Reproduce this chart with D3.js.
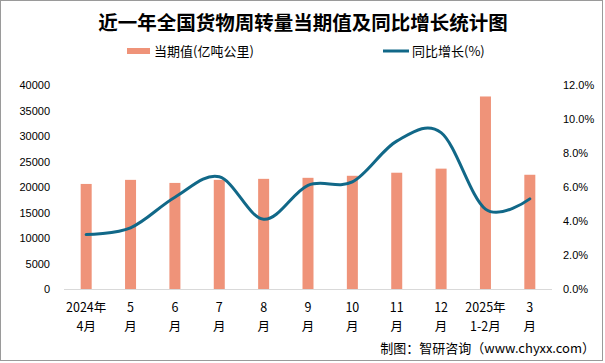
<!DOCTYPE html>
<html>
<head>
<meta charset="utf-8">
<script src="https://cdn.jsdelivr.net/npm/d3@7"></script>
<style>
  body { margin: 0; background: #fff; }
  text { font-family: "Liberation Sans", Arial, sans-serif; fill: #000; }
  .cjk { font-family: "Noto Sans CJK SC", sans-serif; }
</style>
</head>
<body>
<div id="chart"></div>
<script>

var months = ['2024年|4月', '5|月', '6|月', '7|月', '8|月', '9|月', '10|月', '11|月', '12|月', '2025年|1-2月', '3|月'];
var turnover = [20600, 21400, 20800, 21400, 21600, 21800, 22200, 22800, 23600, 37750, 22400];
var growth = [3.2, 3.6, 5.4, 6.6, 4.1, 6.1, 6.3, 8.7, 9.2, 4.7, 5.3];
var leftTicks = [0, 5000, 10000, 15000, 20000, 25000, 30000, 35000, 40000];
var rightTicks = [0, 2, 4, 6, 8, 10, 12];

var width = 605, height = 363;
var barColor = '#ef9379', lineColor = '#116888';

var svg = d3.select('#chart').append('svg')
    .attr('width', width)
    .attr('height', height);

svg.append('rect')
    .attr('x', 0.5).attr('y', 0.5)
    .attr('width', 602).attr('height', 360)
    .attr('fill', '#fff')
    .attr('stroke', '#9a9a9a');

var x = d3.scaleBand()
    .domain(months)
    .range([64, 552])
    .paddingInner(0.752)
    .paddingOuter(0.376);

var y = d3.scaleLinear().domain([0, 40000]).range([289, 85]);
var y2 = d3.scaleLinear().domain([0, 12]).range([289, 85]);

// title
svg.append('text')
    .attr('class', 'cjk')
    .attr('x', 303).attr('y', 30)
    .attr('text-anchor', 'middle')
    .style('font-size', '19.5px')
    .style('font-weight', 'bold')
    .text('近一年全国货物周转量当期值及同比增长统计图');

// legend
svg.append('rect')
    .attr('x', 127).attr('y', 48)
    .attr('width', 23).attr('height', 6)
    .attr('fill', barColor);
svg.append('text')
    .attr('class', 'cjk')
    .attr('x', 154).attr('y', 56)
    .style('font-size', '13px')
    .text('当期值(亿吨公里)');
svg.append('line')
    .attr('x1', 383).attr('x2', 409)
    .attr('y1', 51).attr('y2', 51)
    .attr('stroke', lineColor)
    .attr('stroke-width', 3);
svg.append('text')
    .attr('class', 'cjk')
    .attr('x', 412).attr('y', 56)
    .style('font-size', '13px')
    .text('同比增长(%)');

// left axis
var yAxis = d3.axisLeft(y).tickValues(leftTicks).tickSize(0).tickPadding(0)
    .tickFormat(d3.format('d'));
var gl = svg.append('g').attr('transform', 'translate(50,0)').call(yAxis);
gl.select('.domain').remove();
gl.selectAll('text').style('font-size', '11px').attr('font-family', null);

// right axis
var y2Axis = d3.axisRight(y2).tickValues(rightTicks).tickSize(0).tickPadding(0)
    .tickFormat(function (d) { return d.toFixed(1) + '%'; });
var gr = svg.append('g').attr('transform', 'translate(563,0)').call(y2Axis);
gr.select('.domain').remove();
gr.selectAll('text').style('font-size', '11px').attr('font-family', null);

// baseline
svg.append('line')
    .attr('x1', 64).attr('x2', 552)
    .attr('y1', y(0) + 0.5).attr('y2', y(0) + 0.5)
    .attr('stroke', '#d9d9d9');

// bars
svg.append('g')
    .selectAll('rect')
    .data(turnover)
    .enter().append('rect')
    .attr('x', function (d, i) { return x(months[i]); })
    .attr('y', function (d) { return y(d); })
    .attr('width', x.bandwidth())
    .attr('height', function (d) { return y(0) - y(d); })
    .attr('fill', barColor);

// growth line
var line = d3.line()
    .x(function (d, i) { return x(months[i]) + x.bandwidth() / 2; })
    .y(function (d) { return y2(d); })
    .curve(d3.curveCardinal.tension(0));

svg.append('path')
    .datum(growth)
    .attr('d', line)
    .attr('fill', 'none')
    .attr('stroke', lineColor)
    .attr('stroke-width', 3)
    .attr('stroke-linecap', 'round');

// x labels
var xl = svg.append('g')
    .selectAll('text')
    .data(months)
    .enter().append('text')
    .attr('class', 'cjk')
    .attr('text-anchor', 'middle')
    .style('font-size', '12.5px')
    .attr('transform', function (d) {
        return 'translate(' + (x(d) + x.bandwidth() / 2) + ',0)';
    });
xl.append('tspan')
    .attr('x', 0).attr('y', 312)
    .text(function (d) { return d.split('|')[0]; });
xl.append('tspan')
    .attr('x', 0).attr('y', 331)
    .text(function (d) { return d.split('|')[1]; });

// source
svg.append('text')
    .attr('class', 'cjk')
    .attr('x', 595).attr('y', 353)
    .attr('text-anchor', 'end')
    .style('font-size', '13px')
    .text('制图：智研咨询（www.chyxx.com）');

</script>
</body>
</html>
